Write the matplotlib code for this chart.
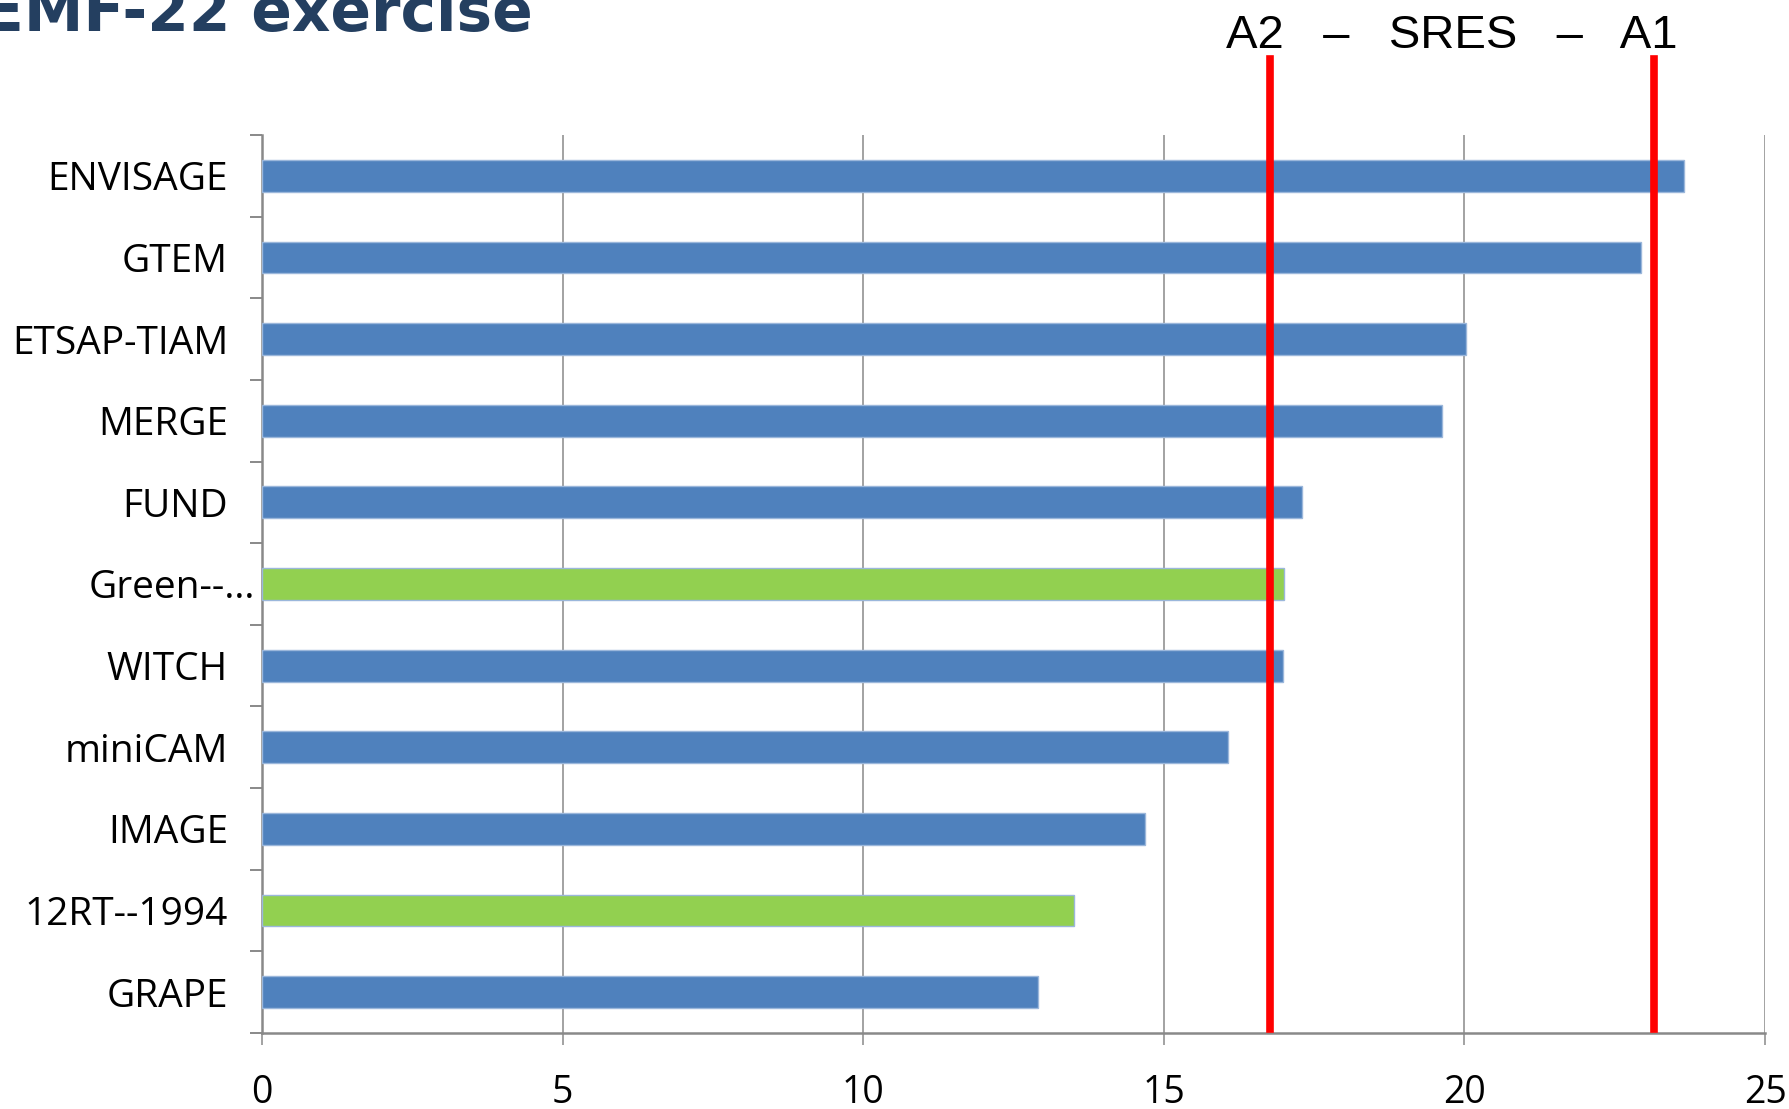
import matplotlib.pyplot as plt
import matplotlib.transforms as mtransforms

models = ["ENVISAGE", "GTEM", "ETSAP-TIAM", "MERGE", "FUND", "Green--\u2026",
          "WITCH", "miniCAM", "IMAGE", "12RT--1994", "GRAPE"]
values = [23.65, 22.93, 20.02, 19.63, 17.29, 17.0, 16.99, 16.07, 14.68, 13.51, 12.9]
colors = ["#4F81BD", "#4F81BD", "#4F81BD", "#4F81BD", "#4F81BD", "#92D050",
          "#4F81BD", "#4F81BD", "#4F81BD", "#92D050", "#4F81BD"]
sres_lines = [16.77, 23.15]  # A2 and A1
xticks = [0, 5, 10, 15, 20, 25]

plt.rcParams["font.family"] = ["Open Sans", "DejaVu Sans"]
grey = "#898989"

fig = plt.figure(figsize=(17.89, 11.09), dpi=100)
ax = fig.add_axes([0.1465, 0.0685, 0.9866 - 0.1465, 0.8783 - 0.0685])

ypos = list(range(len(models)))[::-1]
ax.barh(ypos, values, height=0.39, color=colors, edgecolor="#9BB7DB",
        linewidth=1, zorder=3)

ax.set_xlim(0, 25)
ax.set_ylim(-0.5, len(models) - 0.5)
ax.set_xticks(xticks)
ax.set_xticklabels([str(t) for t in xticks], fontsize=27, fontweight="medium")
ax.set_yticks(ypos)
ax.set_yticklabels(models, fontsize=28, fontweight="medium")
ax.set_yticks([i - 0.5 for i in range(len(models) + 1)], minor=True)
ax.tick_params(axis="y", which="major", length=0, pad=24.5)
ax.tick_params(axis="y", which="minor", length=8.6, width=1.4, color=grey)
ax.tick_params(axis="x", length=8.6, width=1.1, color=grey, pad=21)
ax.grid(axis="x", color=grey, linewidth=1.1, zorder=0)
for side in ["top", "right"]:
    ax.spines[side].set_visible(False)
for side in ["left", "bottom"]:
    ax.spines[side].set_color(grey)
    ax.spines[side].set_linewidth(1.8)

# the truncated label sits a bit further right in the original
for lab in ax.get_yticklabels():
    if lab.get_text().startswith("Green"):
        lab.set_transform(lab.get_transform() +
                          mtransforms.ScaledTranslation(0.27, 0, fig.dpi_scale_trans))

# SRES reference lines
trans = ax.get_xaxis_transform()
for x in sres_lines:
    ax.plot([x, x], [0.004, 1.085], color="#FF0000", linewidth=5.5,
            transform=trans, clip_on=False, zorder=5)

fig.text(0.8115, 1 - 48 / 1109, "A2   \u2013   SRES   \u2013   A1", fontsize=34,
         family="Liberation Sans", ha="center", va="baseline", color="black")

fig.text(533 / 1789, 1 - 31 / 1109, "EMF-22 exercise", fontsize=43,
         family="DejaVu Sans", fontweight="bold", color="#243F60",
         ha="right", va="baseline")

fig.savefig("out.png", dpi=100)
